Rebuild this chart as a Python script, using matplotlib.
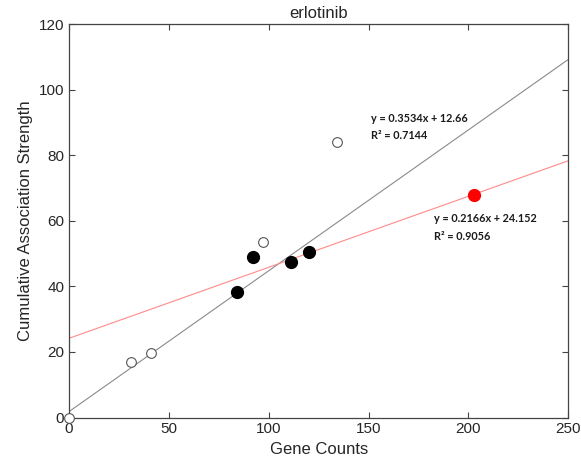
import matplotlib
matplotlib.use("Agg")
import matplotlib.pyplot as plt
import numpy as np

plt.rcParams['font.family'] = ['Liberation Sans', 'DejaVu Sans']

# gene counts vs cumulative association strength
open_x = [0, 31, 41, 97, 134]
open_y = [0, 17.0, 19.8, 53.6, 84.1]
filled_x = [84, 92, 111, 120]
filled_y = [38.2, 49.0, 47.5, 50.4]
red_x = [203]
red_y = [67.9]

# fitted lines (slope, intercept)
black_fit = (0.4296, 1.8)
red_fit = (0.2166, 24.152)

black_eq = ["y = 0.3534x + 12.66", "R² = 0.7144"]
red_eq = ["y = 0.2166x + 24.152", "R² = 0.9056"]

fig = plt.figure(figsize=(5.81, 4.70), dpi=100)
ax = fig.add_axes([0.1188, 0.1117, 0.8594, 0.8372])

xx = np.array([0, 250])
ax.plot(xx, black_fit[0] * xx + black_fit[1], color='#8a8a8a', lw=0.8, zorder=2)
ax.plot(xx, red_fit[0] * xx + red_fit[1], color='#ff8a8a', lw=0.8, zorder=2)

ax.plot(open_x, open_y, 'o', ms=7, mfc='white', mec='#555555', mew=0.8,
        zorder=3, clip_on=False)
ax.plot(filled_x, filled_y, 'o', ms=8.5, color='black', zorder=3)
ax.plot(red_x, red_y, 'o', ms=8.5, color='#ff0000', zorder=3)

eq_font = dict(fontsize=7.8, fontweight='bold', family=['Lato', 'DejaVu Sans'],
               va='center', color='#1a1a1a')
ax.text(151, 91.3, black_eq[0], **eq_font)
ax.text(151, 86.1, black_eq[1], **eq_font)
ax.text(182.5, 60.6, red_eq[0], **eq_font)
ax.text(182.5, 55.2, red_eq[1], **eq_font)

ax.set_xlim(0, 250)
ax.set_ylim(0, 120)
ax.set_xticks([0, 50, 100, 150, 200, 250])
ax.set_yticks([0, 20, 40, 60, 80, 100, 120])
ax.tick_params(direction='in', top=True, right=True, length=4,
               width=0.8, color='#444444', labelsize=11, labelcolor='#262626')
for s in ax.spines.values():
    s.set_color('#444444')
    s.set_linewidth(0.9)

ax.set_xlabel("Gene Counts", fontsize=12, color='#262626')
ax.set_ylabel("Cumulative Association Strength", fontsize=12, color='#262626')
ax.set_title("erlotinib", fontsize=12, color='#262626', pad=4)

fig.savefig("out.png", dpi=100)
